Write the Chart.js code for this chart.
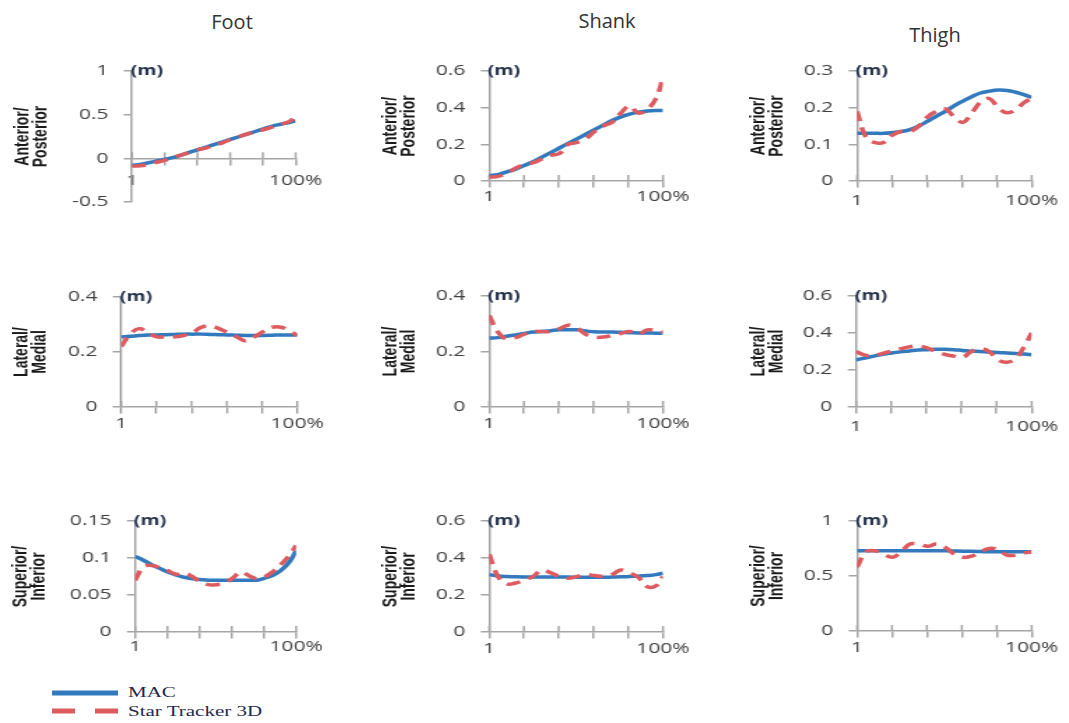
<!DOCTYPE html>
<html>
<head>
<meta charset="utf-8">
<script src="https://cdn.jsdelivr.net/npm/chart.js@4.4.1/dist/chart.umd.min.js"></script>
<style>
  html, body { margin: 0; padding: 0; background: #fff; }
  body { width: 1069px; height: 723px; position: relative; overflow: hidden; }
  canvas { position: absolute; }
  .col { position: absolute; font-family: 'Open Sans', sans-serif; font-size: 20px; color: #333;
         transform: translateX(-50%); white-space: nowrap; line-height: 26px; }
  .leg { position: absolute; left: 128px; font-family: 'Liberation Serif', serif; font-size: 15px;
         color: #1f2a4f; line-height: 18px; transform: scaleX(1.4); transform-origin: left center; white-space: nowrap; }
</style>
</head>
<body>
<div class="col" style="left:232px;top:9px">Foot</div>
<div class="col" style="left:607px;top:8px">Shank</div>
<div class="col" style="left:935px;top:22px">Thigh</div>

<svg style="position:absolute;left:50px;top:683px" width="72" height="40">
  <line x1="2" y1="10" x2="68" y2="10" stroke="#3279bd" stroke-width="5"/>
  <line x1="2" y1="28" x2="68" y2="28" stroke="#dd5a5f" stroke-width="5" stroke-dasharray="23 20"/>
</svg>
<div class="leg" style="top:683px">MAC</div>
<div class="leg" style="top:702px">Star Tracker 3D</div>

<script>
// percent of cycle (x values)
const pct = [1, 6, 11, 16, 21, 26, 31, 36, 41, 46, 51, 56, 61, 66, 71, 76, 81, 86, 91, 96, 100];
const xTicks = [1, 20.8, 40.6, 60.4, 80.2, 100];
const xLabels = ['1', '', '', '', '', '100%'];

// Foot
const footAP_mac  = [-0.08,-0.07,-0.05,-0.03,-0.01,0.01,0.04,0.07,0.1,0.13,0.16,0.19,0.22,0.25,0.28,0.31,0.34,0.37,0.39,0.41,0.43];
const footAP_star = [-0.09,-0.085,-0.07,-0.045,-0.02,0.01,0.04,0.07,0.1,0.12,0.15,0.18,0.22,0.25,0.28,0.31,0.33,0.36,0.39,0.42,0.48];
const footLM_mac  = [0.255,0.257,0.26,0.262,0.262,0.263,0.264,0.265,0.265,0.265,0.264,0.263,0.262,0.261,0.26,0.26,0.26,0.261,0.262,0.262,0.262];
const footLM_star = [0.22,0.265,0.285,0.27,0.255,0.255,0.255,0.26,0.27,0.29,0.295,0.285,0.27,0.255,0.24,0.255,0.275,0.29,0.29,0.275,0.26];
const footSI_mac  = [0.102,0.097,0.091,0.086,0.081,0.077,0.074,0.072,0.071,0.07,0.07,0.07,0.07,0.07,0.07,0.07,0.073,0.077,0.084,0.095,0.11];
const footSI_star = [0.07,0.088,0.09,0.087,0.083,0.078,0.08,0.075,0.068,0.064,0.064,0.066,0.073,0.081,0.076,0.072,0.075,0.082,0.092,0.104,0.117];

// Shank
const shankAP_mac  = [0.03,0.035,0.05,0.065,0.085,0.105,0.13,0.155,0.18,0.205,0.23,0.255,0.28,0.305,0.33,0.35,0.365,0.375,0.382,0.385,0.385];
const shankAP_star = [0.02,0.025,0.04,0.07,0.09,0.1,0.12,0.14,0.15,0.2,0.21,0.23,0.27,0.3,0.32,0.37,0.41,0.37,0.39,0.45,0.56];
const shankLM_mac  = [0.248,0.25,0.255,0.26,0.265,0.27,0.272,0.275,0.278,0.278,0.278,0.274,0.271,0.27,0.27,0.269,0.268,0.267,0.267,0.266,0.266];
const shankLM_star = [0.33,0.27,0.245,0.25,0.262,0.272,0.272,0.272,0.282,0.295,0.285,0.262,0.252,0.252,0.258,0.265,0.272,0.262,0.278,0.275,0.27];
const shankSI_mac  = [0.31,0.303,0.3,0.298,0.297,0.297,0.297,0.297,0.297,0.297,0.296,0.296,0.296,0.296,0.297,0.298,0.3,0.302,0.305,0.31,0.318];
const shankSI_star = [0.42,0.3,0.26,0.265,0.28,0.3,0.335,0.32,0.3,0.29,0.3,0.31,0.305,0.3,0.31,0.335,0.32,0.295,0.245,0.25,0.3];

// Thigh
const thighAP_mac  = [0.13,0.13,0.13,0.13,0.132,0.135,0.14,0.15,0.163,0.177,0.19,0.205,0.218,0.23,0.24,0.245,0.248,0.247,0.242,0.235,0.228];
const thighAP_star = [0.19,0.12,0.105,0.105,0.125,0.135,0.135,0.15,0.175,0.19,0.197,0.175,0.16,0.185,0.215,0.225,0.2,0.186,0.195,0.215,0.225];
const thighLM_mac  = [0.255,0.265,0.275,0.285,0.292,0.298,0.303,0.308,0.31,0.312,0.312,0.31,0.306,0.302,0.3,0.297,0.295,0.292,0.289,0.286,0.283];
const thighLM_star = [0.3,0.28,0.278,0.29,0.302,0.314,0.325,0.33,0.32,0.3,0.285,0.275,0.268,0.3,0.315,0.3,0.255,0.242,0.262,0.33,0.4];
const thighSI_mac  = [0.73,0.73,0.73,0.73,0.73,0.73,0.73,0.73,0.73,0.73,0.73,0.728,0.725,0.724,0.722,0.72,0.72,0.72,0.72,0.72,0.72];
const thighSI_star = [0.58,0.72,0.73,0.7,0.67,0.72,0.79,0.79,0.77,0.79,0.76,0.7,0.67,0.68,0.72,0.75,0.74,0.69,0.69,0.71,0.72];

const AP = ['Anterior/', 'Posterior'];
const LM = ['Lateral/', 'Medial'];
const SI = ['Superior/', 'Inferior'];

const BLUE = '#3279bd';
const RED = '#dd5a5f';
const AX = '#a6a6a6';
const TXT = '#404040';
const SX = 1.4;          // the source figure is stretched sideways
const TITLE_LH = 13.3;   // axis title line height, canvas px

// page placement of each small chart
const panels = [
  { title: AP, mac: footAP_mac,  star: footAP_star,  min: -0.5, max: 1,    step: 0.5,  titleX: 22,  axisX: 132, rightX: 296,  yTop: 71,  yBottom: 202, xPad: 7 },
  { title: AP, mac: shankAP_mac, star: shankAP_star, min: 0,    max: 0.6,  step: 0.2,  titleX: 390, axisX: 489, rightX: 663,  yTop: 71,  yBottom: 181, xPad: 1 },
  { title: AP, mac: thighAP_mac, star: thighAP_star, min: 0,    max: 0.3,  step: 0.1,  titleX: 758, axisX: 857, rightX: 1032, yTop: 71,  yBottom: 181, xPad: 5 },
  { title: LM, mac: footLM_mac,  star: footLM_star,  min: 0,    max: 0.4,  step: 0.2,  titleX: 21,  axisX: 121, rightX: 297,  yTop: 297, yBottom: 407, xPad: 2 },
  { title: LM, mac: shankLM_mac, star: shankLM_star, min: 0,    max: 0.4,  step: 0.2,  titleX: 390, axisX: 489, rightX: 663,  yTop: 296, yBottom: 407, xPad: 2 },
  { title: LM, mac: thighLM_mac, star: thighLM_star, min: 0,    max: 0.6,  step: 0.2,  titleX: 758, axisX: 856, rightX: 1032, yTop: 296, yBottom: 407, xPad: 5 },
  { title: SI, mac: footSI_mac,  star: footSI_star,  min: 0,    max: 0.15, step: 0.05, titleX: 20,  axisX: 135, rightX: 296,  yTop: 521, yBottom: 632, xPad: 0 },
  { title: SI, mac: shankSI_mac, star: shankSI_star, min: 0,    max: 0.6,  step: 0.2,  titleX: 390, axisX: 489, rightX: 663,  yTop: 521, yBottom: 632, xPad: 2 },
  { title: SI, mac: thighSI_mac, star: thighSI_star, min: 0,    max: 1,    step: 0.5,  titleX: 758, axisX: 857, rightX: 1032, yTop: 521, yBottom: 631, xPad: 2 }
];

// x ticks cross the axis line: library draws the lower half, this the upper half
const crossTicks = {
  id: 'crossTicks',
  beforeDatasetsDraw(chart) {
    const xs = chart.scales.x, ys = chart.scales.y;
    const y0 = ys.getPixelForValue(0);
    const ctx = chart.ctx;
    ctx.save();
    ctx.strokeStyle = AX;
    ctx.lineWidth = 1.5;
    xs.ticks.forEach(t => {
      const x = xs.getPixelForValue(t.value);
      ctx.beginPath();
      ctx.moveTo(x, y0 - 6);
      ctx.lineTo(x, y0);
      ctx.stroke();
    });
    ctx.restore();
  }
};

const unitLabel = {
  id: 'unitLabel',
  afterDraw(chart) {
    const a = chart.chartArea, ctx = chart.ctx;
    ctx.save();
    ctx.font = 'bold 14px "Open Sans"';
    ctx.fillStyle = '#22304a';
    ctx.textAlign = 'left';
    ctx.textBaseline = 'middle';
    ctx.fillText('(m)', a.left - 1, a.top);
    ctx.restore();
  }
};

const tickFont = { family: "'Open Sans', sans-serif", size: 15 };

panels.forEach(p => {
  const left = p.titleX - TITLE_LH / 2 * SX;
  const wy = (p.axisX - left) / SX;
  const aw = (p.rightX - p.axisX) / SX;
  const cw = Math.ceil(wy + aw + 34);
  const padTop = 24, padBottom = 36;
  const ch = p.yBottom - p.yTop + padTop + padBottom;

  const cv = document.createElement('canvas');
  cv.width = cw;
  cv.height = ch;
  cv.style.left = left + 'px';
  cv.style.top = (p.yTop - padTop) + 'px';
  cv.style.width = (cw * SX) + 'px';
  cv.style.height = ch + 'px';
  document.body.appendChild(cv);

  new Chart(cv, {
    type: 'line',
    data: {
      datasets: [
        { label: 'Star Tracker 3D', data: pct.map((x, i) => ({ x: x, y: p.star[i] })),
          borderColor: RED, borderWidth: 3.5, borderDash: [10, 6.5], pointRadius: 0, tension: 0.4 },
        { label: 'MAC', data: pct.map((x, i) => ({ x: x, y: p.mac[i] })),
          borderColor: BLUE, borderWidth: 3.5, pointRadius: 0, tension: 0.4 }
      ]
    },
    options: {
      responsive: false,
      animation: false,
      devicePixelRatio: 1,
      layout: { padding: { left: 0, top: padTop, right: cw - wy - aw, bottom: padBottom } },
      plugins: { legend: { display: false }, tooltip: { enabled: false } },
      scales: {
        x: {
          type: 'linear', min: 1, max: 100, position: { y: 0 },
          afterBuildTicks: s => { s.ticks = xTicks.map(v => ({ value: v })); },
          afterFit: s => { s.paddingLeft = 0; s.paddingRight = 0; s.paddingTop = 0; s.paddingBottom = 0; },
          ticks: { autoSkip: false, maxRotation: 0, padding: p.xPad, color: TXT, font: tickFont,
                   callback: (v, i) => xLabels[i] },
          grid: { drawOnChartArea: false, tickLength: 6, color: AX, lineWidth: 1.5 },
          border: { color: AX, width: 1.5 }
        },
        y: {
          min: p.min, max: p.max,
          afterFit: s => { s.width = wy; s.paddingTop = 0; s.paddingBottom = 0; },
          ticks: { stepSize: p.step, padding: 11, color: TXT, font: tickFont,
                   callback: v => String(+v.toFixed(2)) },
          grid: { drawOnChartArea: false, tickLength: 6, color: AX, lineWidth: 1.5 },
          border: { color: AX, width: 1.5 },
          title: { display: true, text: p.title, color: '#1a1a1a', padding: 0,
                   font: { family: "'Liberation Sans', Arial, sans-serif", size: 14, weight: 'bold', lineHeight: TITLE_LH / 14 } }
        }
      }
    },
    plugins: [crossTicks, unitLabel]
  });
});
</script>
</body>
</html>
